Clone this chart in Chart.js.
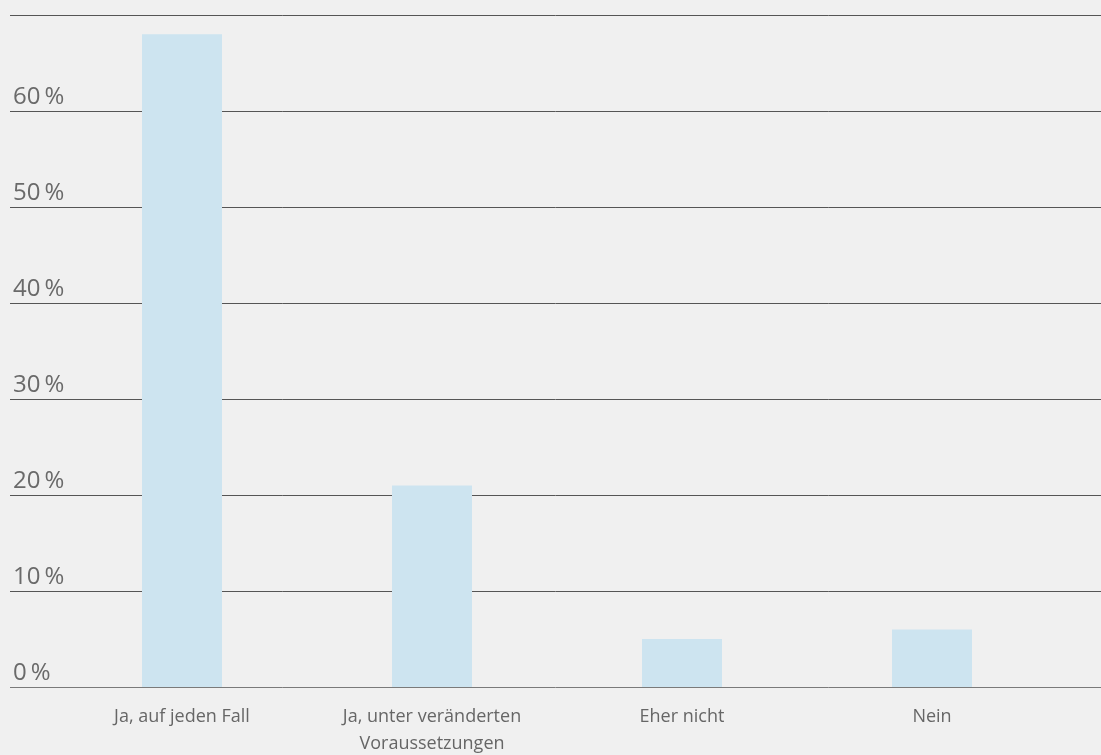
<!DOCTYPE html>
<html>
<head>
<meta charset="utf-8">
<script src="https://cdn.jsdelivr.net/npm/chart.js@4"></script>
<style>
  html, body { margin: 0; padding: 0; background: #f0f0f0; }
  #chart-wrap { width: 1101px; height: 755px; }
</style>
</head>
<body>
<div id="chart-wrap"><canvas id="bar-chart" width="1101" height="755"></canvas></div>
<script>
var categories = [["Ja, auf jeden Fall"], ["Ja, unter veränderten", "Voraussetzungen"], ["Eher nicht"], ["Nein"]];
var shareValues = [68, 21, 5, 6];
var yTicks = [0, 10, 20, 30, 40, 50, 60, 70];

// horizontal rules run across the whole width, labels sit on top of them
var gridPlugin = {
  id: 'fullWidthGrid',
  beforeDatasetsDraw: function(chart) {
    var ctx = chart.ctx;
    var y = chart.scales.y;
    ctx.save();
    yTicks.forEach(function(v) {
      var py = Math.round(y.getPixelForValue(v)) + 0.5;
      ctx.beginPath();
      ctx.strokeStyle = v === 0 ? '#7a7a7a' : '#555555';
      ctx.lineWidth = 1;
      ctx.moveTo(10, py);
      ctx.lineTo(chart.width, py);
      ctx.stroke();
      if (v < 70) {
        ctx.fillStyle = '#6a6a6a';
        ctx.font = '24px "Open Sans"';
        ctx.textBaseline = 'alphabetic';
        ctx.textAlign = 'left';
        ctx.fillText(v + '\u2009%', 13, py - 8);
      }
    });
    ctx.restore();
  }
};

var barCanvas = document.getElementById("bar-chart");
var barChart = new Chart(barCanvas, {
  type: 'bar',
  data: {
    labels: categories,
    datasets: [{
      label: "Anteil",
      backgroundColor: "#cde4f0",
      data: shareValues,
      barPercentage: 0.32,
      categoryPercentage: 1
    }]
  },
  options: {
    responsive: false,
    animation: false,
    layout: { padding: { left: 57, right: 44, top: 15, bottom: 0 } },
    plugins: {
      legend: { display: false },
      tooltip: { enabled: false }
    },
    scales: {
      x: {
        grid: { display: false, drawTicks: false },
        border: { display: false },
        afterFit: function(scale) { scale.height = 68; },
        ticks: {
          padding: 16,
          color: '#666666',
          maxRotation: 0,
          font: { family: '"Open Sans"', size: 18, lineHeight: 1.5 }
        }
      },
      y: {
        display: false,
        min: 0,
        max: 70
      }
    }
  },
  plugins: [gridPlugin]
});
</script>
</body>
</html>
